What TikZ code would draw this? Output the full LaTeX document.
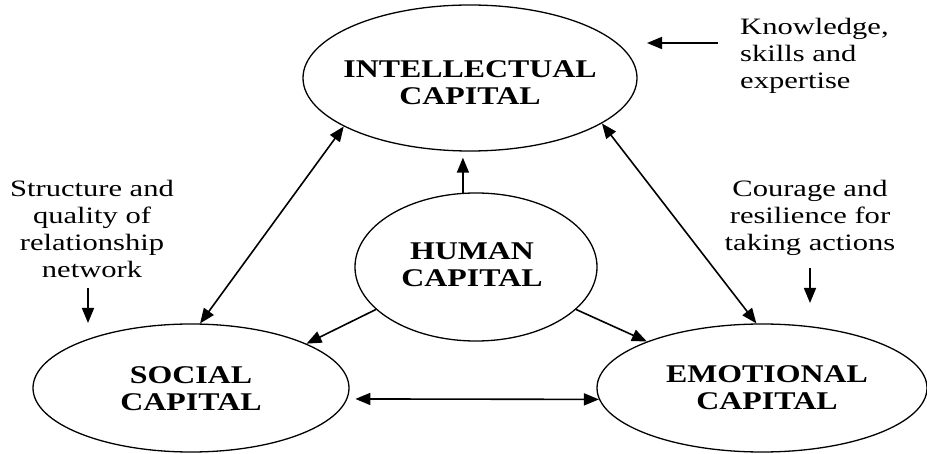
\documentclass[tikz,border=0pt]{standalone}
\usepackage{fontspec}
\setmainfont{Liberation Serif}
\newfontfamily\boldlbl[FakeStretch=1.25]{Liberation Serif}
\newfontfamily\reglbl[FakeStretch=1.3]{Liberation Serif}
\usetikzlibrary{shapes.geometric,arrows.meta}
\tikzset{
  capnode/.style={ellipse, draw, line width=1.3pt, inner sep=0pt},
  captext/.style={font=\boldlbl\bfseries\fontsize{25.5}{27}\selectfont, align=center, inner sep=0pt},
  note/.style={font=\reglbl\fontsize{23.5}{27}\selectfont, inner sep=0pt},
  tip/.style={Triangle[length=15pt,width=12pt]},
  conn/.style={line width=1.6pt, -{Triangle[length=15pt,width=12pt]}},
  dconn/.style={line width=1.6pt, {Triangle[length=15pt,width=12pt]}-{Triangle[length=15pt,width=12pt]}}
}
\begin{document}
\begin{tikzpicture}[x=1pt,y=-1pt]
\useasboundingbox (0,0) rectangle (927,454);
\fill[white] (0,0) rectangle (927,454);
% ellipses
\node[capnode, minimum width=334pt, minimum height=146pt,
  label={[captext, yshift=-5pt]center:INTELLECTUAL\\CAPITAL}] (intel) at (470,78) {};
\node[capnode, minimum width=242pt, minimum height=148pt,
  label={[captext, xshift=-4pt, yshift=2pt]center:HUMAN\\CAPITAL}] (human) at (476,267) {};
\node[capnode, minimum width=316pt, minimum height=128pt,
  label={[captext, yshift=-1pt]center:SOCIAL\\CAPITAL}] (social) at (191,388) {};
\node[capnode, minimum width=330pt, minimum height=128pt,
  label={[captext, xshift=5pt, yshift=0pt]center:EMOTIONAL\\CAPITAL}] (emot) at (762,388) {};
% notes
\node[note, anchor=north west, align=left] (know) at (740,18) {Knowledge,\\skills and\\expertise};
\node[note, anchor=north, align=center] (struct) at (92,180) {Structure and\\quality of\\relationship\\network};
\node[note, anchor=north, align=center] (courage) at (810,180) {Courage and\\resilience for\\taking actions};
% free arrow ends
\coordinate (k1) at (718,43);
\coordinate (k2) at (647,43);
\coordinate (s1) at (88,288);
\coordinate (s2) at (88,323);
\coordinate (c1) at (810,268);
\coordinate (c2) at (810,303);
\draw[conn] (k1) -- (k2);
\draw[conn] (s1) -- (s2);
\draw[conn] (c1) -- (c2);
% connectors
\draw[conn, shorten >=6pt] (human.100) -- (human.100 |- intel.south);
\draw[dconn] (social.82) -- (intel.201);
\draw[dconn] (emot.95) -- (intel.341);
\draw[conn] (human.203) -- (social.21.5);
\draw[conn] (human.337) -- (emot.158);
\draw[dconn, shorten <=8pt] (social.-4.4) -- (emot.184.2);
\end{tikzpicture}
\end{document}
